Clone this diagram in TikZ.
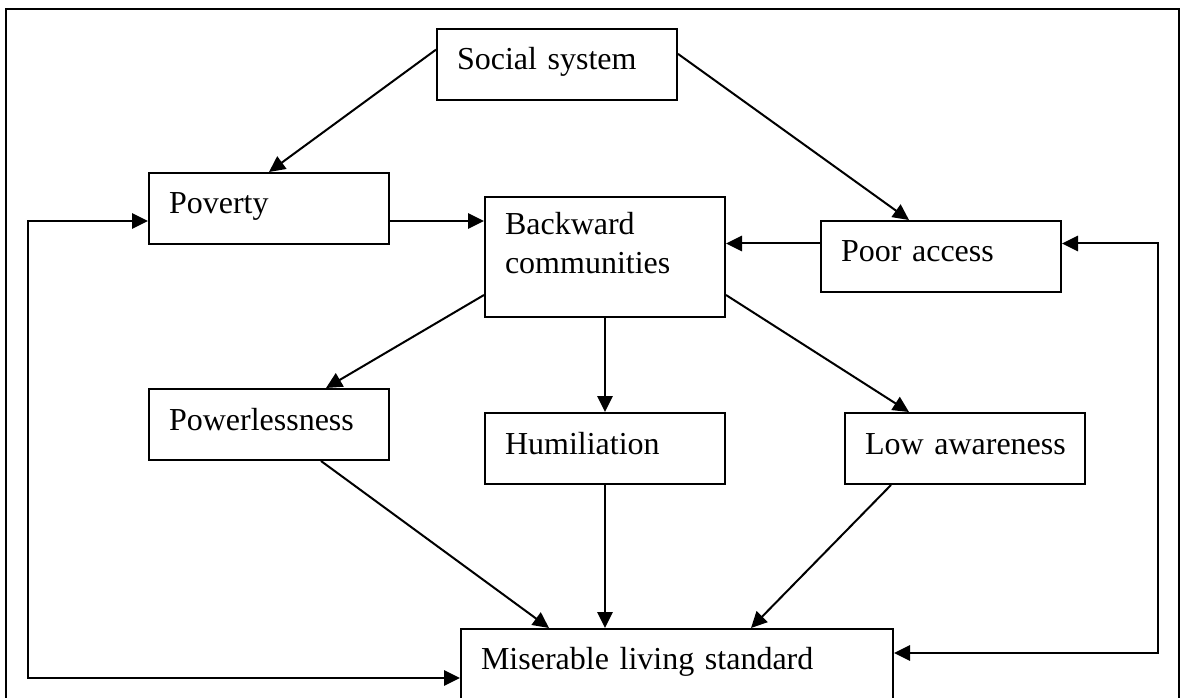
\documentclass[tikz,border=0pt]{standalone}
\usepackage{fontspec}
\setmainfont{Liberation Serif}[WordSpace=0.85]
\usetikzlibrary{arrows.meta, positioning, calc}
\hyphenpenalty=10000
\exhyphenpenalty=10000

\begin{document}
\begin{tikzpicture}[
    x=0.75pt, y=-0.75pt,
    box/.style={rectangle, draw, line width=1.5pt, anchor=north west,
                inner xsep=15pt, inner ysep=0pt, text width=150pt, align=left,
                text height=30.75pt, text depth=22.5pt,
                font=\fontsize{24}{29.25}\selectfont},
    arr/.style={line width=1.5pt, -{Triangle[length=12pt, width=11.5pt]}},
    backarr/.style={line width=1.5pt,
                {Triangle[length=12pt, width=11.5pt]}-{Triangle[length=12pt, width=11.5pt]}}
]
    \useasboundingbox (0,0) rectangle (1184,698);
    \clip (0,0) rectangle (1184,698);
    % frame
    \draw[line width=1.2pt] (6,740) -- (6,9) -- (1179,9) -- (1179,740);

    % top
    \node[box] (soc) at (436,28) {Social~system};
    % second row
    \node[box] (pov) at (148,172) {Poverty};
    \node[box, text height=28.5pt, text depth=61.5pt] (bwd) at (484,196) {Backward\\communities};
    \node[box] (acc) at (820,220) {Poor~access};
    % third row
    \node[box] (pwl) at (148,388) {Powerlessness};
    \node[box] (hum) at (484,412) {Humiliation};
    \node[box] (low) at (844,412) {Low~awareness};
    % result
    \node[box, text width=294pt, text height=30pt, text depth=43.5pt] (mis) at (460,628) {Miserable living standard};

    % causes
    \draw[arr] (soc.173) -- (pov.north);
    \draw[arr] (soc.5) -- ($(acc.north)+(-32,0)$);
    \draw[arr] ($(pov.east)+(0,12.5)$) coordinate (p1) -- (p1 -| bwd.west);
    \draw[arr] ($(acc.west)+(0,-13)$) coordinate (p2) -- (p2 -| bwd.east);
    \draw[arr] ($(bwd.south west)+(0,-23)$) -- ($(pwl.north)+(57,0)$);
    \draw[arr] (bwd.south) -- (hum.north);
    \draw[arr] ($(bwd.south east)+(0,-23)$) -- ($(low.north)+(-56,0)$);
    \draw[arr] ($(pwl.south)+(52,0)$) -- ($(mis.north)+(-128,0)$);
    \draw[arr] (hum.south) -- ($(mis.north)+(-72,0)$);
    \draw[arr] ($(low.south)+(-74,0)$) -- ($(mis.north)+(74,0)$);

    % feedback loops
    \draw[backarr] ($(pov.west)+(0,12.5)$) -- ++(-120,0) |- (mis.west);
    \draw[backarr] ($(acc.east)+(0,-13)$) -- ++(96,0) |- ($(mis.east)+(0,-25)$);
\end{tikzpicture}
\end{document}
